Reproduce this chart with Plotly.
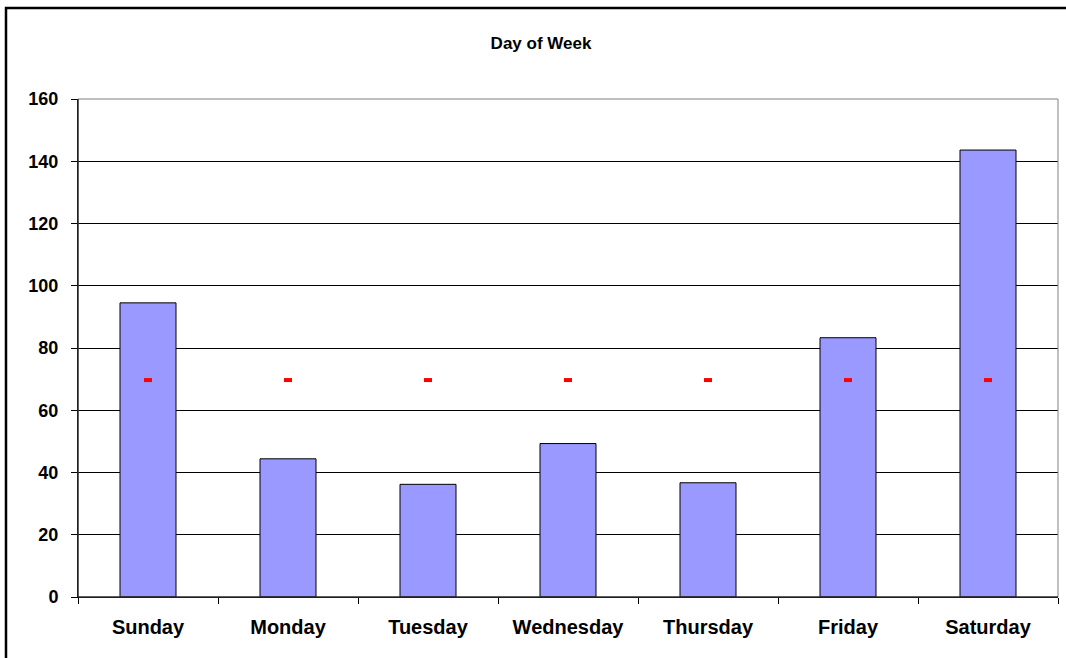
import plotly.graph_objects as go

days = ["Sunday", "Monday", "Tuesday", "Wednesday", "Thursday", "Friday", "Saturday"]
counts = [94.5, 44.4, 36.2, 49.3, 36.7, 83.3, 143.6]
average = [69.7] * 7
y_ticks = [0, 20, 40, 60, 80, 100, 120, 140, 160]

W, H = 1066, 658
L, R, T, B = 78, 8, 99, 61
pw, ph = W - L - R, H - T - B

def px(x):
    return (x - L) / pw

def py(y):
    return (H - B - y) / ph

fig = go.Figure()
fig.add_trace(go.Bar(
    x=days, y=counts,
    marker=dict(color="#9999FF", line=dict(color="black", width=1)),
    width=0.4, hoverinfo="x+y",
))
fig.add_trace(go.Scatter(
    x=days, y=average, mode="markers",
    marker=dict(symbol="line-ew", size=5.7, line=dict(color="#FF0000", width=4)),
))

font = "Liberation Sans, Arial, sans-serif"
fig.update_layout(
    width=W, height=H,
    margin=dict(l=L, r=R, t=T, b=B),
    paper_bgcolor="white", plot_bgcolor="white",
    showlegend=False,
    title=dict(text="<b>Day of Week</b>", x=541 / W, xref="container", xanchor="center",
               y=1 - 43 / H, yref="container", yanchor="middle",
               font=dict(family=font, size=17, color="black")),
    xaxis=dict(
        type="category", tickson="boundaries", ticks="outside", ticklen=6,
        tickcolor="black", showline=True, linecolor="black", linewidth=1,
        showgrid=False, tickfont=dict(family=font, size=20, color="black"),
        ticklabelstandoff=12,
    ),
    yaxis=dict(
        range=[0, 160], tickvals=y_ticks, ticktext=[f"<b>{v}</b>" for v in y_ticks],
        ticks="outside", ticklen=6, tickcolor="black",
        showline=True, linecolor="black", linewidth=1,
        showgrid=True, gridcolor="black", gridwidth=1, zeroline=False,
        tickfont=dict(family=font, size=18, color="black"),
        ticklabelstandoff=9,
    ),
    shapes=[
        dict(type="rect", xref="paper", yref="paper", x0=0, x1=1, y0=0, y1=1,
             line=dict(color="#808080", width=1), layer="above"),
        dict(type="line", xref="paper", yref="paper", x0=0, x1=0, y0=0, y1=1,
             line=dict(color="black", width=1), layer="above"),
        dict(type="line", xref="paper", yref="paper", x0=0, x1=1, y0=0, y1=0,
             line=dict(color="black", width=1), layer="above"),
        dict(type="rect", xref="paper", yref="paper", x0=px(6), x1=px(1080),
             y0=py(680), y1=py(8), line=dict(color="black", width=2.5), layer="above"),
    ],
)
fig.update_xaxes(tickvals=days, ticktext=[f"<b>{d}</b>" for d in days])
fig.write_html("out.html", config={"displayModeBar": False},
               post_script="document.body.style.margin='0';document.body.style.overflow='hidden';")
